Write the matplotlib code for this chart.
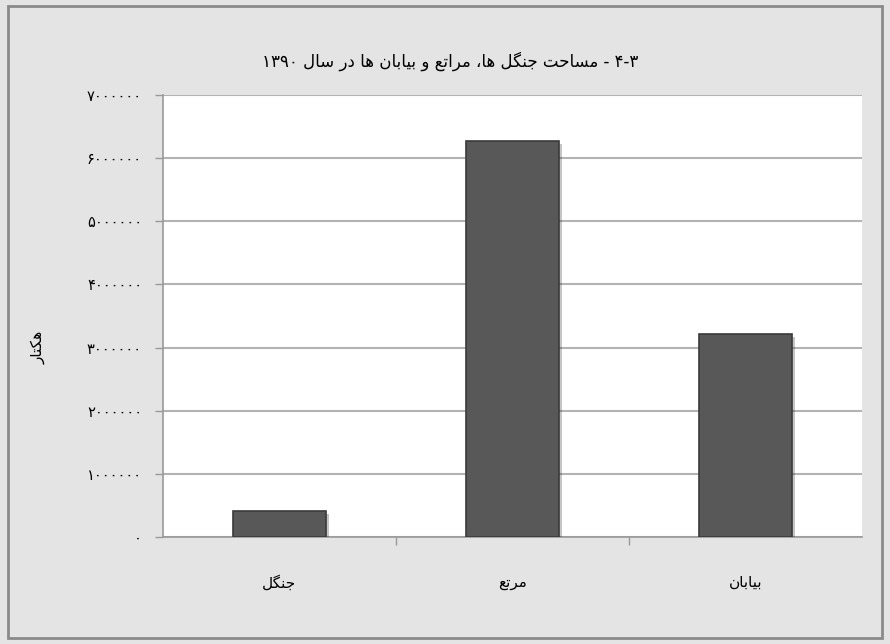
import matplotlib
matplotlib.use("Agg")
import matplotlib.pyplot as plt
import matplotlib.patheffects as pe
from matplotlib.patches import Rectangle

# data (hectares)
categories = ["جنگل", "مرتع", "بیابان"]
areas = [410000, 6270000, 3210000]
y_ticks = [0, 1000000, 2000000, 3000000, 4000000, 5000000, 6000000, 7000000]
title_text = "۴-۳ - مساحت جنگل ها، مراتع و بیابان ها در سال ۱۳۹۰"
y_label = "هکتار"

# simple persian shaping (iso, fin, ini, med); None = does not join forward
FORMS = {
    "ا": ("\uFE8D", "\uFE8E", None, None),
    "ب": ("\uFE8F", "\uFE90", "\uFE91", "\uFE92"),
    "ت": ("\uFE95", "\uFE96", "\uFE97", "\uFE98"),
    "ج": ("\uFE9D", "\uFE9E", "\uFE9F", "\uFEA0"),
    "ح": ("\uFEA1", "\uFEA2", "\uFEA3", "\uFEA4"),
    "د": ("\uFEA9", "\uFEAA", None, None),
    "ر": ("\uFEAD", "\uFEAE", None, None),
    "س": ("\uFEB1", "\uFEB2", "\uFEB3", "\uFEB4"),
    "ع": ("\uFEC9", "\uFECA", "\uFECB", "\uFECC"),
    "ل": ("\uFEDD", "\uFEDE", "\uFEDF", "\uFEE0"),
    "م": ("\uFEE1", "\uFEE2", "\uFEE3", "\uFEE4"),
    "ن": ("\uFEE5", "\uFEE6", "\uFEE7", "\uFEE8"),
    "ه": ("\uFEE9", "\uFEEA", "\uFEEB", "\uFEEC"),
    "و": ("\uFEED", "\uFEEE", None, None),
    "ی": ("\uFBFC", "\uFBFD", "\uFBFE", "\uFBFF"),
    "گ": ("\uFB92", "\uFB93", "\uFB94", "\uFB95"),
    "ک": ("\uFB8E", "\uFB8F", "\uFB90", "\uFB91"),
}


def shape_word(word):
    out = []
    for i, c in enumerate(word):
        if c not in FORMS:
            out.append(c)
            continue
        prev = word[i - 1] if i > 0 else None
        nxt = word[i + 1] if i < len(word) - 1 else None
        join_prev = prev in FORMS and FORMS[prev][2] is not None
        join_next = FORMS[c][2] is not None and nxt in FORMS
        iso, fin, ini, med = FORMS[c]
        if join_prev and join_next:
            out.append(med)
        elif join_prev:
            out.append(fin)
        elif join_next:
            out.append(ini)
        else:
            out.append(iso)
    return "".join(out)


def fa(text):
    tokens = []
    for tok in text.split(" "):
        if any(c in FORMS for c in tok):
            tokens.append(shape_word(tok)[::-1])
        else:
            tokens.append(tok)
    return " ".join(tokens[::-1])


fa_digits = str.maketrans("0123456789", "۰۱۲۳۴۵۶۷۸۹")

plt.rcParams["font.family"] = ["DejaVu Sans"]

fig = plt.figure(figsize=(8.9, 6.44), dpi=100)
fig.patch.set_facecolor("#e4e4e4")
fig.patches.append(Rectangle((0.009, 0.01), 0.982, 0.981, transform=fig.transFigure,
                             fill=False, edgecolor="#8a8a8a", linewidth=2))

ax = fig.add_axes([0.183, 0.166, 0.7855, 0.6865])
ax.set_facecolor("white")

x = list(range(len(categories)))
bars = ax.bar(x, areas, width=0.4, color="#585858", edgecolor="#3a3a3a",
              linewidth=1.2, zorder=3)
for b in bars:
    b.set_path_effects([pe.SimplePatchShadow(offset=(2, -2), alpha=0.25), pe.Normal()])

ax.set_xlim(-0.5, len(categories) - 0.5)
ax.set_ylim(0, 7000000)
ax.set_yticks(y_ticks)
ax.set_yticklabels([str(v).translate(fa_digits) for v in y_ticks], fontsize=10.5)
ax.yaxis.grid(True, color="#b3b3b3", linewidth=1.5, zorder=0)
ax.set_axisbelow(True)

ax.set_xticks(x)
ax.set_xticklabels([fa(c) for c in categories], fontsize=11)
ax.set_xticks([i + 0.5 for i in x[:-1]], minor=True)
ax.tick_params(axis="x", which="major", length=0, pad=27)
ax.tick_params(axis="x", which="minor", length=6, color="#999999", width=1)
ax.tick_params(axis="y", length=6, color="#999999", width=1, pad=9)

for s in ["top", "right"]:
    ax.spines[s].set_visible(False)
for s in ["left", "bottom"]:
    ax.spines[s].set_color("#999999")
    ax.spines[s].set_linewidth(1.2)

ax.set_ylabel(fa(y_label), fontsize=11)
ax.yaxis.set_label_coords(-0.168, 0.43)
fig.text(0.506, 0.905, fa(title_text), ha="center", va="center", fontsize=12)

fig.savefig("out.png", dpi=100, facecolor=fig.get_facecolor())
